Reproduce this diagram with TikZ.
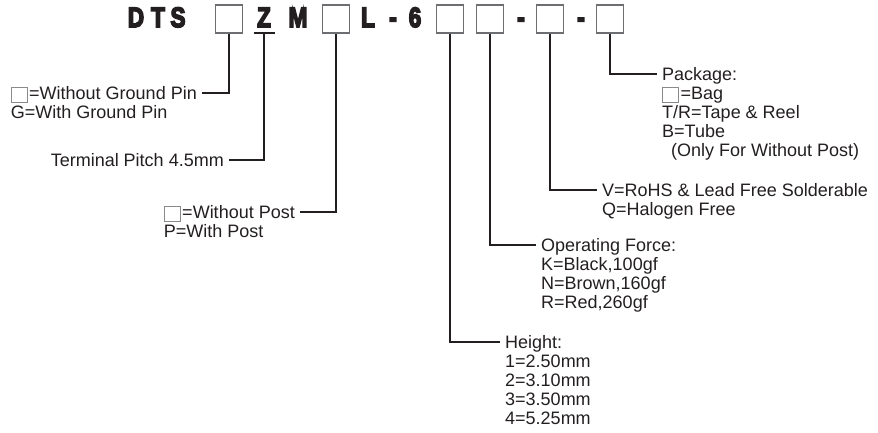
\documentclass[tikz,border=0pt]{standalone}
\usepackage{fontspec}
\setmainfont{Liberation Sans}
\newfontfamily\ttlfont[FakeBold=6]{Liberation Sans Bold}
\usepackage{graphicx}
\usepackage{tikz}
\usepackage{xcolor}
\definecolor{ink}{HTML}{231F20}
\definecolor{boxgray}{HTML}{6D6E71}
\definecolor{glyphgray}{HTML}{8A8A8C}
\newcommand{\sqmark}{\raisebox{-2.5pt}{\color{glyphgray}\setlength{\fboxsep}{0pt}\setlength{\fboxrule}{0.7pt}\fbox{\rule{0pt}{14.5pt}\hspace{15pt}}}\hspace{2pt}}
\newcommand{\ttlchar}[1]{\scalebox{0.8}[1]{\ttlfont\fontsize{28}{28}\selectfont #1}}
\begin{document}
\begin{tikzpicture}[x=1pt, y=-1pt, ink,
	ttl/.style={anchor=base, inner sep=0pt},
	blankbox/.style={draw=boxgray, line width=1.4pt, minimum width=27pt, minimum height=28pt, inner sep=0pt},
	conn/.style={line width=1.1pt, ink},
	lbl/.style={font=\fontsize{18}{19}\selectfont, align=left, inner xsep=5pt, inner ysep=0pt}]
	\useasboundingbox (0,0) rectangle (878,433);
	\foreach \c/\x [count=\i] in {D/136,T/158,S/178,Z/264,M/298,L/368,-/393,6/415,-/521,-/581}
	{
		\node[ttl] (t\i) at (\x,27) {\ttlchar{\c}};
	}
	\foreach \x [count=\i] in {229,336,450,490,550,610}
	{
		\node[blankbox] (b\i) at (\x,19) {};
	}
	\coordinate (zbar) at (264,33);
	\draw[line width=1.2pt] ([xshift=-10.5pt]zbar) -- ([xshift=10.5pt]zbar);

	\node[lbl, anchor=north east] (gnd) at (202,86.5) {\sqmark=Without Ground Pin\\G=With Ground Pin};
	\node[lbl, anchor=north east] (pitch) at (229,153.5) {Terminal Pitch 4.5mm};
	\node[lbl, anchor=north east] (post) at (300,205.5) {\sqmark=Without Post\\P=With Post};
	\node[lbl, anchor=north west] (height) at (500,335.5) {Height:\\1=2.50mm\\2=3.10mm\\3=3.50mm\\4=5.25mm};
	\node[lbl, anchor=north west] (force) at (536,238.5) {Operating Force:\\K=Black,100gf\\N=Brown,160gf\\R=Red,260gf};
	\node[lbl, anchor=north west] (rohs) at (597,183.5) {V=RoHS \& Lead Free Solderable\\Q=Halogen Free};
	\node[lbl, anchor=north west] (pkg) at (657,67.5) {Package:\\\sqmark=Bag\\T/R=Tape \& Reel\\B=Tube\\\hspace*{9pt}(Only For Without Post)};

	\draw[conn] (b1.south) |- ([yshift=-6.5pt]gnd.north east);
	\draw[conn] (zbar) |- ([yshift=-6.5pt]pitch.north east);
	\draw[conn] (b2.south) |- ([yshift=-6.5pt]post.north east);
	\draw[conn] (b3.south) |- ([yshift=-6.5pt]height.north west);
	\draw[conn] (b4.south) |- ([yshift=-6.5pt]force.north west);
	\draw[conn] (b5.south) |- ([yshift=-6.5pt]rohs.north west);
	\draw[conn] (b6.south) |- ([yshift=-6.5pt]pkg.north west);
\end{tikzpicture}
\end{document}
